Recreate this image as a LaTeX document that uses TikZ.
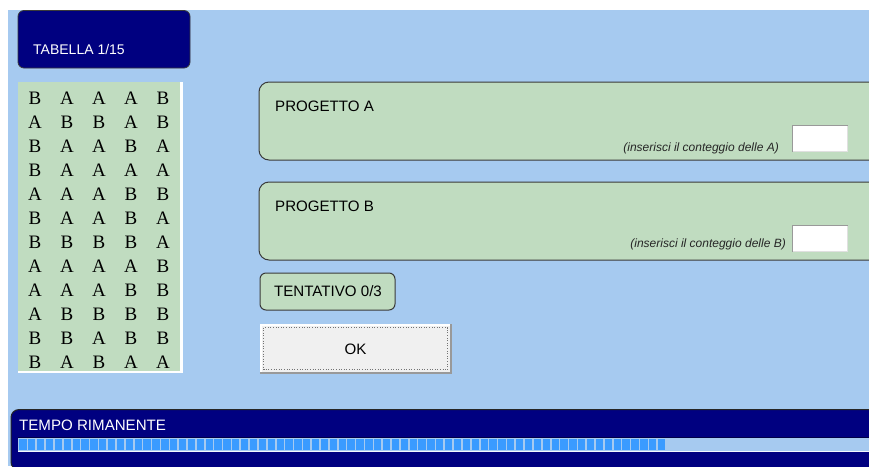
\documentclass[tikz,border=0pt]{standalone}
\usepackage{fontspec}
\setmainfont{Liberation Sans}
\newfontfamily\tms{Liberation Serif}
\definecolor{skyb}{HTML}{A6CAF0}
\definecolor{navyb}{HTML}{000080}
\definecolor{mgreen}{HTML}{C0DCC0}
\definecolor{progb}{HTML}{3A9BFF}
\definecolor{btngray}{HTML}{F0F0F0}
\definecolor{edgegray}{HTML}{3A3A3A}
\tikzset{
  lbl/.style={anchor=base west, inner sep=0pt, font=\fontsize{15.1}{17}\selectfont},
  hint/.style={anchor=base east, inner sep=0pt, text=black!85, font=\fontsize{12}{14}\selectfont\itshape},
  letter/.style={inner sep=0pt, anchor=base, font=\tms\fontsize{19}{22}\selectfont},
  panel/.style={fill=mgreen, draw=edgegray, line width=1pt, rounded corners=10pt},
  inputbox/.style={fill=white},
}
\begin{document}
\begin{tikzpicture}[x={(1pt,0)}, y={(0,-1pt)}]
\useasboundingbox (0,0) rectangle (869,466);
\clip (0,0) rectangle (869,466);
% page background
\fill[white] (0,0) rectangle (869,466);
\fill[skyb] (8,10) rectangle (869,466);
% title box
\fill[navyb, draw=edgegray, line width=0.8pt, rounded corners=6pt] (18,10.5) rectangle (190,68);
\node[lbl, text=white, font=\fontsize{14}{17}\selectfont] (title) at (33,54) {TABELLA 1/15};
% letter table
\fill[white] (18,82) rectangle (183,373);
\fill[mgreen] (18,82) rectangle (180,370.5);
\foreach \row [count=\i from 0] in {
  {B,A,A,A,B},{A,B,B,A,B},{B,A,A,B,A},{B,A,A,A,A},
  {A,A,A,B,B},{B,A,A,B,A},{B,B,B,B,A},{A,A,A,A,B},
  {A,A,A,B,B},{A,B,B,B,B},{B,B,A,B,B},{B,A,B,A,A}} {
  \foreach \c [count=\j from 0] in \row {
    \node[letter] (t-\i-\j) at ({35+32*\j},{104+24*\i}) {\c};
  }
}
% project A
\draw[panel] (259,82) rectangle (900,160);
\node[lbl] (pa) at (275,111) {PROGETTO A};
\node[hint] (ha) at (779,151.5) {(inserisci il conteggio delle A)};
\fill[inputbox] (792,125) rectangle (848,152);
\draw[gray!80, line width=1pt] (792.5,152) -- (792.5,125.5) -- (848,125.5);
\draw[black!12, line width=1pt] (793,151.5) -- (847.5,151.5) -- (847.5,126);
% project B
\draw[panel] (259,182) rectangle (900,260);
\node[lbl] (pb) at (275,211) {PROGETTO B};
\node[hint] (hb) at (786,247.5) {(inserisci il conteggio delle B)};
\fill[inputbox] (792,225) rectangle (848,252);
\draw[gray!80, line width=1pt] (792.5,252) -- (792.5,225.5) -- (848,225.5);
\draw[black!12, line width=1pt] (793,251.5) -- (847.5,251.5) -- (847.5,226);
% tentativo
\draw[panel, rounded corners=6pt] (260,273) rectangle (395,310);
\node[lbl, anchor=base] (tent) at (328,296.5) {TENTATIVO 0/3};
% OK button
\fill[black!40] (260,324) rectangle (452,374);
\fill[white] (260,324) rectangle (449.5,371.5);
\fill[btngray] (261.5,325.5) rectangle (449.5,371.5);
\draw[black!55, line width=0.6pt, dotted] (263.5,327.5) rectangle (447.5,369.5);
\node[lbl, anchor=base] (ok) at (355.5,354.5) {OK};
% time panel
\fill[navyb, draw=black!85, line width=1pt, rounded corners=8pt] (11,409.5) rectangle (900,470);
\node[lbl, text=white] (tempo) at (19,430.5) {TEMPO RIMANENTE};
\fill[skyb] (18,437.5) rectangle (869,452);
\draw[black!45!navyb, line width=0.8pt] (18,437.8) -- (869,437.8);
\draw[white!85!skyb, line width=1pt] (18,451.5) -- (869,451.5);
\foreach \k in {0,...,72} {
  \fill[progb] ({19.3+8.87*\k},439.3) rectangle ({26.6+8.87*\k},450);
}
\end{tikzpicture}
\end{document}
